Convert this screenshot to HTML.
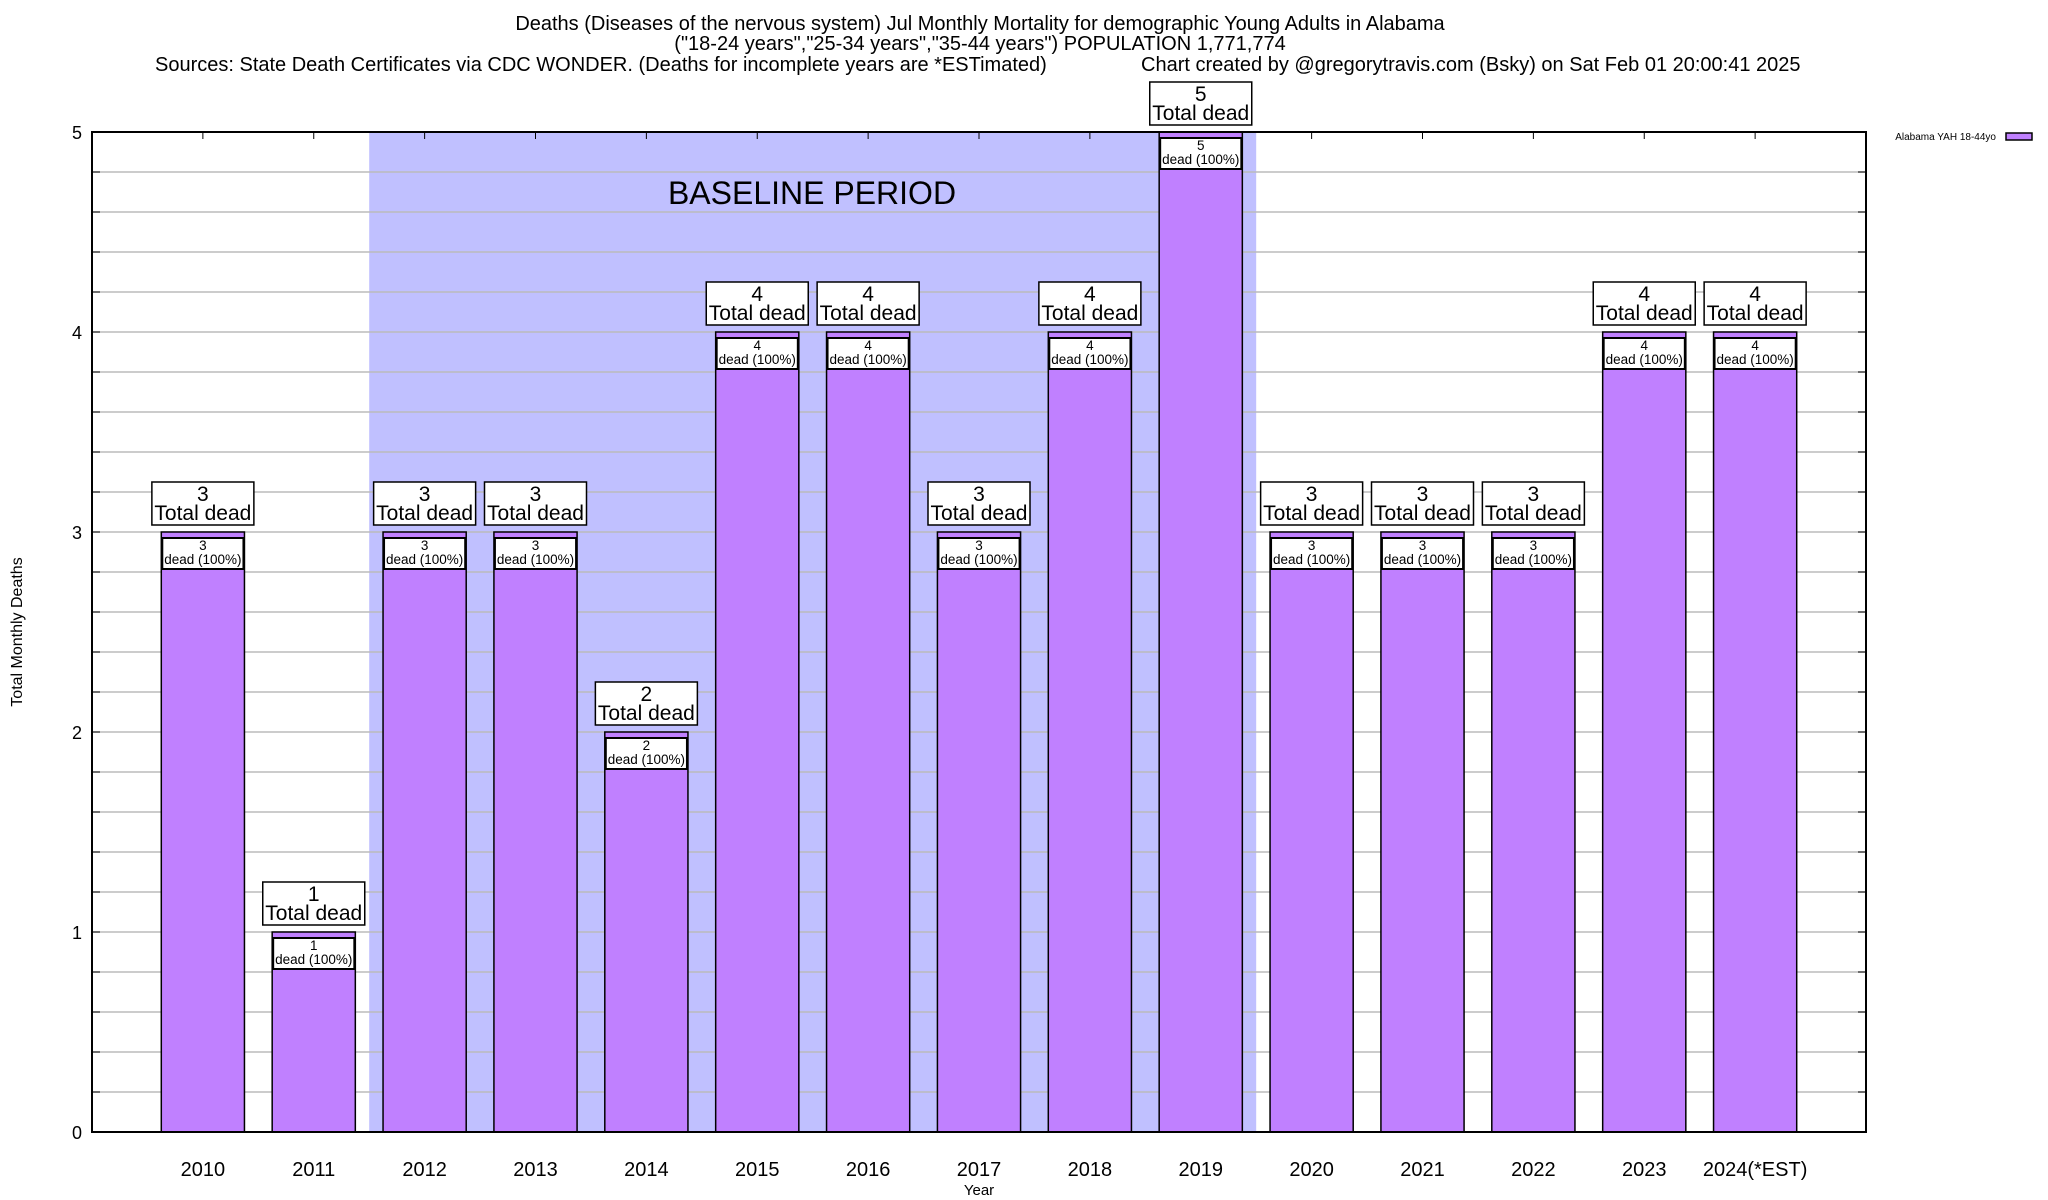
<!DOCTYPE html>
<html><head><meta charset="utf-8"><style>
body{margin:0;background:#fff;}
svg{display:block;font-family:"Liberation Sans",Arial,sans-serif;}
</style></head><body>
<svg id="chart" width="2048" height="1200" viewBox="0 0 2048 1200">
<g font-size="20" fill="#000">
<text x="980" y="30" text-anchor="middle">Deaths (Diseases of the nervous system) Jul Monthly Mortality for demographic Young Adults in Alabama</text>
<text x="980" y="50" text-anchor="middle">("18-24 years","25-34 years","35-44 years") POPULATION 1,771,774</text>
<text x="155" y="71">Sources: State Death Certificates via CDC WONDER. (Deaths for incomplete years are *ESTimated)</text>
<text x="1141" y="71">Chart created by @gregorytravis.com (Bsky) on Sat Feb 01 20:00:41 2025</text>
</g>
<g id="plot"></g>
<text x="22" y="632" font-size="16" text-anchor="middle" transform="rotate(-90 22 632)">Total Monthly Deaths</text>
<text x="979" y="1195" font-size="15" text-anchor="middle">Year</text>
<g>
<text x="1996" y="140" font-size="10" text-anchor="end">Alabama YAH 18-44yo</text>
<rect x="2006" y="133" width="26" height="7" fill="#c080ff" stroke="#000" stroke-width="1.5"/>
</g>
</svg>
<script>
const categories=["2010","2011","2012","2013","2014","2015","2016","2017","2018","2019","2020","2021","2022","2023","2024(*EST)"];
const deaths=[3,1,3,3,2,4,4,3,4,5,3,3,3,4,4];
const yTicks=[0,1,2,3,4,5];
const baselineStart=1.5, baselineEnd=9.5;
const L=92,R=1866,T=132,B=1132,yMax=5;
const slot=(R-L)/(categories.length+1);
const xs=i=>L+(i+1)*slot;
const ys=v=>B-(v/yMax)*(B-T);
const NS="http://www.w3.org/2000/svg";
const plot=document.getElementById('plot');
function mk(tag,attrs,parent,txt){const e=document.createElementNS(NS,tag);for(const k in attrs)e.setAttribute(k,attrs[k]);if(txt!==undefined)e.textContent=txt;(parent||plot).appendChild(e);return e;}
let sh=mk('rect',{x:xs(baselineStart),y:T,width:xs(baselineEnd)-xs(baselineStart),height:B-T,fill:'#c0c0ff'});


let bt=mk('text',{x:812,y:204,'font-size':32,'text-anchor':'middle'},plot,'BASELINE PERIOD');


for(let v=0.2;v<yMax-0.01;v+=0.2){
  const y=ys(v);
  let g=mk('line',{x1:L,x2:R,y1:y,y2:y,stroke:'#bbb','stroke-width':1.5});
  
  
  mk('line',{x1:L,x2:L+8,y1:y,y2:y,stroke:'#000','stroke-width':1});
  mk('line',{x1:R-8,x2:R,y1:y,y2:y,stroke:'#000','stroke-width':1});
}
yTicks.forEach(v=>{
  let t=mk('text',{x:82,y:ys(v)+7,'font-size':18,'text-anchor':'end'},plot,String(v));
  
  
});
const bw=slot*0.75;
categories.forEach((c,i)=>{
  const cx=xs(i),v=deaths[i],yt=ys(v);
  mk('line',{x1:cx,x2:cx,y1:T,y2:T+7,stroke:'#000','stroke-width':1});
  let b=mk('rect',{x:cx-bw/2,y:yt,width:bw,height:B-yt,fill:'#c080ff',stroke:'#000','stroke-width':1.5});
  
  
  let ib=mk('rect',{x:cx-bw/2+1,y:yt+6,width:bw-2,height:31,fill:'#fff',stroke:'#000','stroke-width':2});
  
  
  mk('text',{x:cx,y:yt+18,'font-size':13.5,'text-anchor':'middle'},plot,String(v));
  mk('text',{x:cx,y:yt+32,'font-size':13.5,'text-anchor':'middle'},plot,'dead (100%)');
  let ob=mk('rect',{x:cx-51,y:yt-50,width:102,height:43,fill:'#fff',stroke:'#000','stroke-width':1.5});
  
  
  mk('text',{x:cx,y:yt-31,'font-size':21,'text-anchor':'middle'},plot,String(v));
  mk('text',{x:cx,y:yt-12,'font-size':21,'text-anchor':'middle'},plot,'Total dead');
  let xl=mk('text',{x:cx,y:1176,'font-size':20,'text-anchor':'middle'},plot,c);
  
  
});
let fr=mk('rect',{x:L,y:T,width:R-L,height:B-T,fill:'none',stroke:'#000','stroke-width':2});


</script>
</body></html>
